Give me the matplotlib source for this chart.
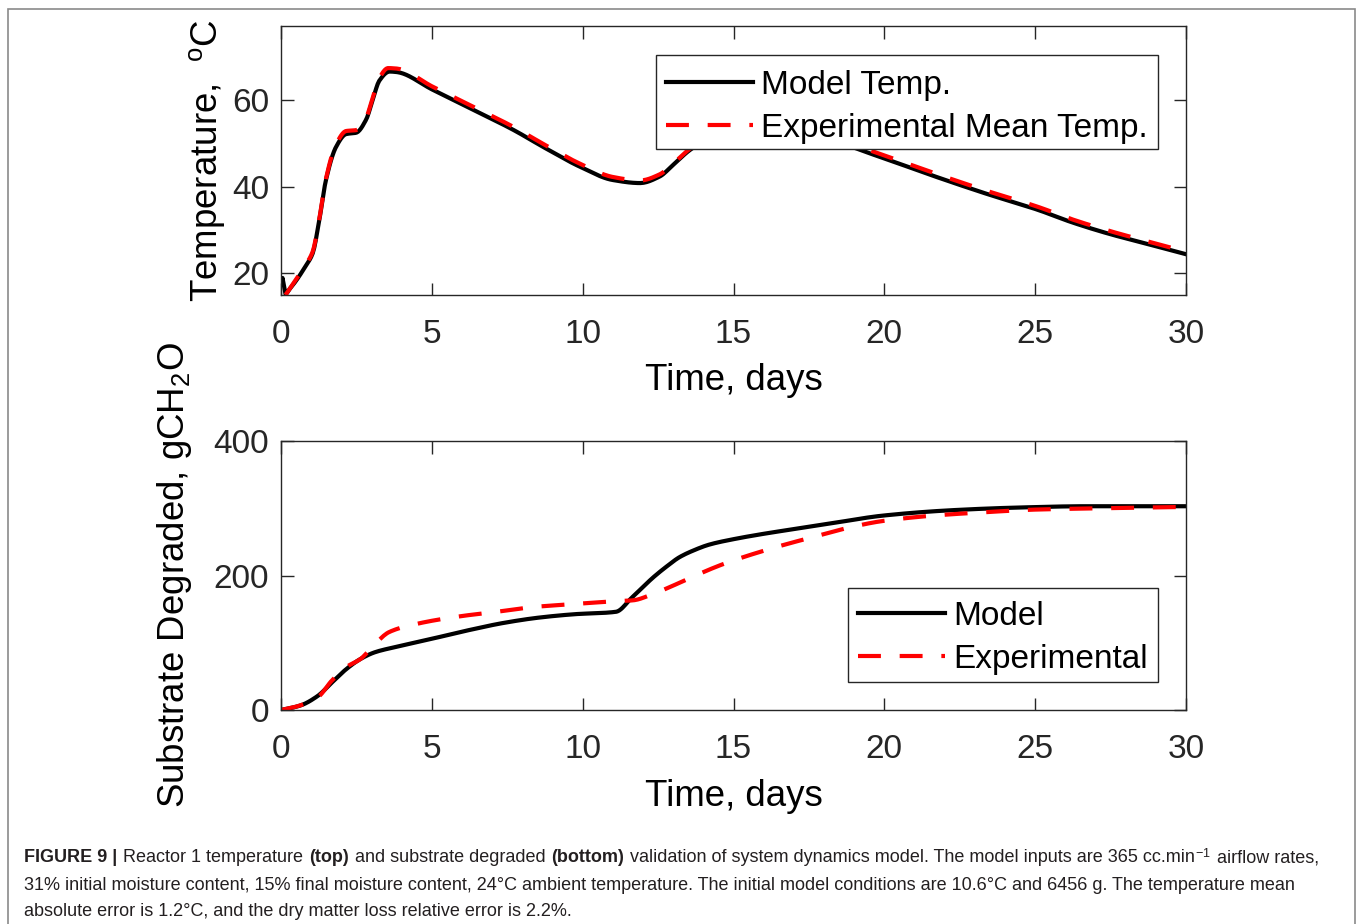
import matplotlib
matplotlib.use("Agg")
import matplotlib.pyplot as plt
from matplotlib.patches import Rectangle
from matplotlib.transforms import Affine2D
import numpy as np

plt.rcParams['font.family'] = ['Liberation Sans', 'DejaVu Sans']
plt.rcParams['mathtext.fontset'] = 'custom'
plt.rcParams['mathtext.rm'] = 'Liberation Sans'
plt.rcParams['mathtext.it'] = 'Liberation Sans'

# ---------------- data ----------------
t_model_temp = [0.0, 0.06, 0.14, 0.3, 0.5, 0.8, 1.05, 1.27, 1.49, 1.83, 2.16, 2.49, 2.82,
                3.04, 3.26, 3.6, 3.82, 5.03, 6.4, 7.69, 8.8, 9.9, 11.0, 11.9, 12.55,
                13.0, 13.57, 14.5, 15.5, 16.5, 17.5, 18.5, 19.17, 20.4, 21.69, 23.4,
                25.1, 26.2, 27.4, 28.7, 30.0]
temp_model = [17.5, 19.0, 15.2, 16.5, 18.3, 21.5, 24.6, 32.3, 41.5, 49.2, 52.1, 52.4,
              55.4, 60.0, 64.4, 66.5, 66.4, 62.3, 57.6, 53.1, 48.7, 44.6, 41.5, 40.8,
              42.3, 45.0, 48.5, 52.3, 54.2, 54.2, 52.6, 50.2, 48.5, 45.5, 42.3, 38.3,
              34.6, 31.8, 29.2, 26.8, 24.4]

t_exp_temp = [0.15, 0.5, 0.8, 1.05, 1.27, 1.49, 1.83, 2.16, 2.49, 2.82, 3.04, 3.26,
              3.55, 3.82, 5.03, 6.4, 7.69, 8.8, 9.9, 11.0, 11.9, 12.55, 13.0, 13.57,
              14.5, 15.5, 16.5, 17.5, 18.5, 19.17, 20.4, 21.69, 23.4, 25.1, 26.2,
              27.4, 28.7, 30.0]
temp_exp = [15.0, 18.6, 21.8, 25.0, 32.6, 41.8, 49.8, 52.8, 53.0, 55.8, 60.5, 65.0,
            67.3, 67.2, 63.0, 58.3, 53.8, 49.4, 45.3, 42.2, 41.4, 42.8, 45.3, 48.8,
            52.8, 54.8, 54.8, 53.2, 50.9, 49.2, 46.2, 43.0, 39.0, 35.3, 32.5, 29.9,
            27.4, 25.0]

t_model_sub = [0.0, 0.63, 1.22, 1.69, 2.17, 2.64, 3.12, 3.83, 5.01, 6.2, 7.38, 8.57,
               9.75, 11.1, 11.65, 12.36, 12.8, 13.2, 13.66, 14.2, 15.0, 16.0, 17.0,
               18.3, 19.94, 22.2, 24.4, 26.7, 30.0]
sub_model = [0, 6.5, 21, 41, 61, 76, 86, 94, 106, 118.5, 129.5, 137.5, 142.5, 146,
             168, 198, 214, 227, 237, 246, 254, 262, 269, 278, 289, 297, 301, 303, 303]

t_exp_sub = [0.0, 0.5, 1.22, 1.69, 2.17, 2.64, 3.12, 3.59, 4.54, 5.96, 7.14, 8.33,
             9.87, 11.17, 11.65, 12.36, 13.0, 13.54, 14.66, 16.24, 17.7, 18.8, 19.94,
             21.6, 23.3, 25.0, 27.2, 30.0]
sub_exp = [0, 5, 19, 44, 64, 76, 98.6, 116, 128.5, 139.5, 146, 153, 158, 162, 163,
           173, 185, 196, 217, 240, 258, 271, 281, 289, 294, 298, 300, 302]

x_ticks = [0, 5, 10, 15, 20, 25, 30]
temp_ticks = [20, 40, 60]
sub_ticks = [0, 200, 400]

# ---------------- figure ----------------
W, H = 1357, 924
fig = plt.figure(figsize=(W / 100, H / 100), dpi=100)
fig.patch.set_facecolor('white')

# outer frame
fig.patches.append(Rectangle((8 / W, -0.05), (1355 - 8) / W, 1 - 9 / H + 0.05,
                             transform=fig.transFigure, fill=False,
                             edgecolor='#8a8a8a', linewidth=1.2))

axcol = '#262626'
FS_TICK = 24
FS_LAB = 26.4
LW = 3.0


def px2fig_x(px):
    return px / W


def px2fig_y(py):
    return 1 - py / H


def smooth(x, y, n=600):
    x = np.asarray(x, float)
    y = np.asarray(y, float)
    # monotone cubic (PCHIP) interpolation for a smooth curve through read points
    h = np.diff(x)
    d = np.diff(y) / h
    m = np.zeros_like(y)
    for k in range(1, len(x) - 1):
        if d[k - 1] * d[k] > 0:
            w1 = 2 * h[k] + h[k - 1]
            w2 = h[k] + 2 * h[k - 1]
            m[k] = (w1 + w2) / (w1 / d[k - 1] + w2 / d[k])
    m[0] = d[0]
    m[-1] = d[-1]
    xs = np.linspace(x[0], x[-1], n)
    idx = np.clip(np.searchsorted(x, xs) - 1, 0, len(x) - 2)
    hh = h[idx]
    tt = (xs - x[idx]) / hh
    h00 = 2 * tt**3 - 3 * tt**2 + 1
    h10 = tt**3 - 2 * tt**2 + tt
    h01 = -2 * tt**3 + 3 * tt**2
    h11 = tt**3 - tt**2
    ys = h00 * y[idx] + h10 * hh * m[idx] + h01 * y[idx + 1] + h11 * hh * m[idx + 1]
    return xs, ys


def style_axes(ax):
    for s in ax.spines.values():
        s.set_color(axcol)
        s.set_linewidth(1.0)
    ax.tick_params(direction='in', length=9, width=1.0, colors=axcol,
                   labelcolor='#262626', labelsize=FS_TICK,
                   top=True, right=True)
    ax.tick_params(axis='x', pad=17)
    ax.tick_params(axis='y', pad=8.5)


def make_legend(ax, anchor, loc, shift):
    leg = ax.legend(loc=loc, bbox_to_anchor=anchor,
                    bbox_transform=fig.transFigure, borderaxespad=0,
                    fontsize=24, frameon=True, fancybox=False, framealpha=1,
                    edgecolor=axcol, handlelength=2.6, handletextpad=0.25,
                    labelspacing=0.36, borderpad=0.3)
    leg.get_frame().set_linewidth(1.0)
    # move the rows slightly down inside the frame (as in the reference)
    for art in list(leg.get_texts()) + list(leg.legend_handles):
        art.set_transform(art.get_transform() + Affine2D().translate(0, -shift))
    return leg


left = px2fig_x(281)
width = px2fig_x(1186) - left

# top axes
ax1 = fig.add_axes([left, px2fig_y(295), width, px2fig_y(26) - px2fig_y(295)])
xs, ys = smooth(t_model_temp, temp_model)
ax1.plot(xs, ys, color='black', lw=LW, label='Model Temp.')
xs, ys = smooth(t_exp_temp, temp_exp)
ax1.plot(xs, ys, color='#ff0000', lw=LW, dashes=(5.5, 4.5),
         label='Experimental Mean Temp.')
ax1.set_xlim(0, 30)
ax1.set_ylim(15, 77)
ax1.set_xticks(x_ticks)
ax1.set_yticks(temp_ticks)
style_axes(ax1)
ax1.set_xlabel('Time, days', fontsize=FS_LAB, labelpad=10)
ax1.set_ylabel('Temperature,  $^{\\mathrm{o}}$C', fontsize=FS_LAB, labelpad=4)
make_legend(ax1, (px2fig_x(1158), px2fig_y(55)), 'upper right', 5)

# bottom axes
ax2 = fig.add_axes([left, px2fig_y(710), width, px2fig_y(441) - px2fig_y(710)])
xs, ys = smooth(t_model_sub, sub_model)
ax2.plot(xs, ys, color='black', lw=LW, label='Model')
xs, ys = smooth(t_exp_sub, sub_exp)
ax2.plot(xs, ys, color='#ff0000', lw=LW, dashes=(5.5, 4.5), label='Experimental')
ax2.set_xlim(0, 30)
ax2.set_ylim(0, 400)
ax2.set_xticks(x_ticks)
ax2.set_yticks(sub_ticks)
style_axes(ax2)
ax2.set_xlabel('Time, days', fontsize=FS_LAB, labelpad=10)
ax2.set_ylabel('Substrate Degraded, gCH$_2$O', fontsize=FS_LAB, labelpad=14)
make_legend(ax2, (px2fig_x(1158), px2fig_y(682)), 'lower right', 3)

# ---------------- caption ----------------
cap_lines = [
    [("FIGURE 9 |", 'bold', False),
     ("Reactor 1 temperature", 'normal', True),
     ("(top)", 'bold', True),
     ("and substrate degraded", 'normal', True),
     ("(bottom)", 'bold', True),
     ("validation of system dynamics model. The model inputs are 365 cc.min", 'normal', True),
     ("$^{\\mathrm{-1}}$", 'normal', False),
     ("airflow rates,", 'normal', True)],
    [("31% initial moisture content, 15% final moisture content, 24\u00b0C ambient "
      "temperature. The initial model conditions are 10.6\u00b0C and 6456 g. "
      "The temperature mean", 'normal', False)],
    [("absolute error is 1.2\u00b0C, and the dry matter loss relative error is 2.2%.",
      'normal', False)],
]
cap_y = [858, 885, 911]
CAP_FS = 13.0
cap_color = '#231f20'

renderer = fig.canvas.get_renderer()
probe = fig.text(0, 0, 'a a', fontsize=CAP_FS)
w_aa_sp = probe.get_window_extent(renderer).width
probe.set_text('aa')
w_aa = probe.get_window_extent(renderer).width
probe.remove()
space_px = w_aa_sp - w_aa + 1.0

for line, py in zip(cap_lines, cap_y):
    x = 24.0
    for text, weight, sp in line:
        if sp:
            x += space_px
        t = fig.text(x / W, px2fig_y(py), text, fontsize=CAP_FS, fontweight=weight,
                     color=cap_color, va='center', ha='left')
        bb = t.get_window_extent(renderer)
        x = bb.x1

fig.savefig('out.png', dpi=100, facecolor='white')
